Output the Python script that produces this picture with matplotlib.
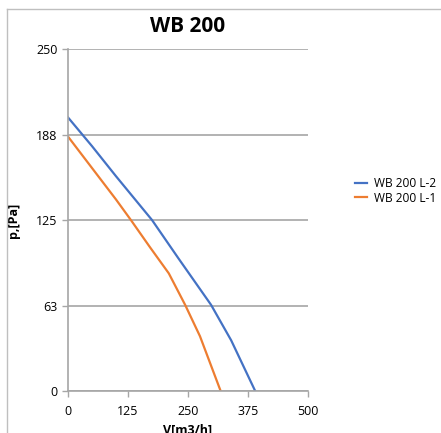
import numpy as np
import matplotlib.pyplot as plt
from matplotlib.lines import Line2D

plt.rcParams['font.family'] = ['Open Sans', 'DejaVu Sans']

# air flow V [m3/h] and pressure p [Pa]
v_l2 = [0, 50, 100, 175, 230, 298, 340, 390]
p_l2 = [200, 179, 157, 125, 97, 63, 37, 0]
v_l1 = [0, 50, 100, 131, 171, 210, 244, 275, 318]
p_l1 = [186, 163, 140, 125, 105, 86, 63, 40, 0]
yticks = [0, 62.5, 125, 187.5, 250]
ylabels = ["0", "63", "125", "188", "250"]
xticks = [0, 125, 250, 375, 500]

fig = plt.figure(figsize=(4.41, 4.33), dpi=100)
ax = fig.add_axes([0.1542, 0.097, 0.5442, 0.7898])

ax.plot(v_l2, p_l2, color="#4472C4", lw=1.6, label="WB 200 L-2")
ax.plot(v_l1, p_l1, color="#ED7D31", lw=1.6, label="WB 200 L-1")

ax.set_xlim(0, 500)
ax.set_ylim(0, 250)
ax.set_yticks(yticks)
ax.set_yticklabels(ylabels)
ax.set_xticks(xticks)
ax.grid(axis="y", color="#A6A6A6", lw=1.2)
ax.set_axisbelow(True)
for s in ["top", "right"]:
    ax.spines[s].set_visible(False)
for s in ["left", "bottom"]:
    ax.spines[s].set_color("#A6A6A6")
    ax.spines[s].set_linewidth(1.2)
ax.tick_params(colors="#A6A6A6", labelcolor="black", labelsize=9, length=4, width=1)
ax.tick_params(axis="x", pad=6)

ax.set_title("WB 200", fontsize=15, fontweight="bold", pad=12)
ax.set_ylabel("p,[Pa]", fontsize=9, fontweight="bold", labelpad=12)
ax.set_xlabel("V[m3/h]", fontsize=9, fontweight="bold", labelpad=4)

ax.legend(loc="center left", bbox_to_anchor=(1.15, 0.585), frameon=False,
          fontsize=8.6, handlelength=1.0, handletextpad=0.6, labelspacing=0.1)

# outer frame
fig.add_artist(Line2D([7 / 441, 1], [1 - 9 / 433, 1 - 9 / 433], color="#BFBFBF", lw=1,
                      transform=fig.transFigure))
fig.add_artist(Line2D([7 / 441, 7 / 441], [0, 1 - 9 / 433], color="#BFBFBF", lw=1,
                      transform=fig.transFigure))

fig.savefig("out.png", dpi=100)
